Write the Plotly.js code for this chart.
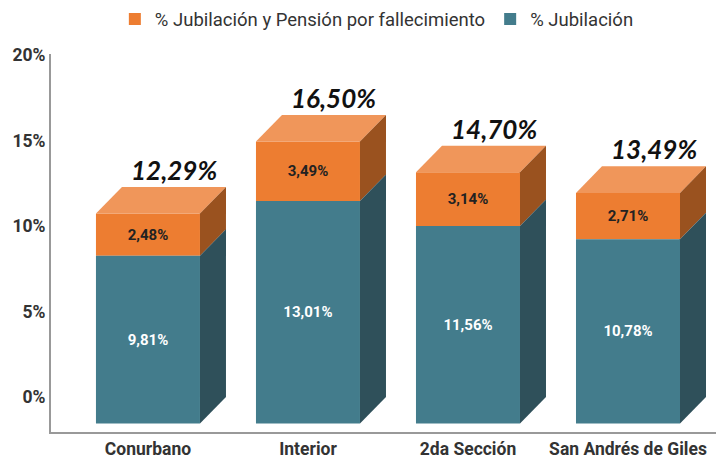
<!DOCTYPE html>
<html><head><meta charset="utf-8">
<script src="https://cdn.plot.ly/plotly-3.0.1.min.js"></script>
<style>html,body{margin:0;padding:0;background:#fff}#chart{width:716px;height:464px}</style>
</head><body><div id="chart"></div>
<script>
const categories = ['Conurbano', 'Interior', '2da Sección', 'San Andrés de Giles'];
const jubilacion = [9.81, 13.01, 11.56, 10.78];
const pension = [2.48, 3.49, 3.14, 2.71];
const seriesNames = ['% Jubilación y Pensión por fallecimiento', '% Jubilación'];
const yTickVals = [0, 5, 10, 15, 20];
const yTickText = ['0%', '5%', '10%', '15%', '20%'];

const BAR_W = 0.65, DX = 0.1625, DY = 1.55;
const C_OR = '#ED7D31', C_OR_TOP = '#F0965A', C_OR_SIDE = '#9A521F';
const C_TE = '#437C8C', C_TE_SIDE = '#2F505A';
const fmt = v => v.toFixed(2).replace('.', ',') + '%';
const xs = categories.map((_, i) => i);
const totals = jubilacion.map((v, i) => v + pension[i]);

const traces = [
  {
    type: 'bar', name: seriesNames[0], x: xs, y: pension,
    base: jubilacion.map(v => v - DY), width: BAR_W,
    marker: {color: C_OR, line: {width: 0}},
    text: pension.map(fmt), textposition: 'inside', insidetextanchor: 'middle',
    textfont: {family: 'Roboto', size: 15, color: '#222', weight: 'bold'},
    constraintext: 'none', hoverinfo: 'skip'
  },
  {
    type: 'bar', name: seriesNames[1], x: xs, y: jubilacion,
    base: jubilacion.map(() => -DY), width: BAR_W,
    marker: {color: C_TE, line: {width: 0}},
    text: jubilacion.map(fmt), textposition: 'inside', insidetextanchor: 'middle',
    textfont: {family: 'Roboto', size: 15, color: '#ffffff', weight: 'bold'},
    constraintext: 'none', hoverinfo: 'skip'
  }
];

const shapes = [];
xs.forEach((x, i) => {
  const x0 = x - BAR_W / 2, x1 = x + BAR_W / 2;
  const J = jubilacion[i], T = totals[i];
  shapes.push({type: 'path', xref: 'x', yref: 'y', line: {width: 0}, fillcolor: C_OR_TOP,
    path: `M${x0},${T - DY} L${x1},${T - DY} L${x1 + DX},${T} L${x0 + DX},${T} Z`});
  shapes.push({type: 'path', xref: 'x', yref: 'y', line: {width: 0}, fillcolor: C_OR_SIDE,
    path: `M${x1},${T - DY} L${x1 + DX},${T} L${x1 + DX},${J} L${x1},${J - DY} Z`});
  shapes.push({type: 'path', xref: 'x', yref: 'y', line: {width: 0}, fillcolor: C_TE_SIDE,
    path: `M${x1},${J - DY} L${x1 + DX},${J} L${x1 + DX},0 L${x1},${-DY} Z`});
});

const annotations = xs.map((x, i) => ({
  x: x + DX, y: totals[i], xref: 'x', yref: 'y', yanchor: 'bottom', xanchor: 'center',
  text: fmt(totals[i]), showarrow: false, yshift: -1,
  font: {family: 'Lato', size: 26, color: '#111', weight: 'bold', style: 'italic'}
}));

const layout = {
  width: 716, height: 464,
  margin: {l: 51, r: 0, t: 54, b: 31.5},
  paper_bgcolor: '#fff', plot_bgcolor: '#fff',
  barmode: 'overlay', showlegend: true,
  legend: {orientation: 'h', x: 0.49, xanchor: 'center', yref: 'container', y: 0.999, yanchor: 'top',
    traceorder: 'normal', font: {family: 'Roboto', size: 18.5, color: '#333'}},
  xaxis: {range: [-0.606, 3.55], tickvals: xs, ticktext: categories, showgrid: false, zeroline: false,
    showline: true, linecolor: '#999', linewidth: 2, ticks: '',
    tickfont: {family: 'Roboto', size: 17.5, color: '#333', weight: 'bold'}},
  yaxis: {range: [-2.04, 20.06], tickvals: yTickVals, ticktext: yTickText, showgrid: false, zeroline: false,
    showline: true, linecolor: '#999', linewidth: 2, ticks: '',
    tickfont: {family: 'Roboto', size: 17.5, color: '#333', weight: 'bold'}},
  shapes: shapes, annotations: annotations
};

Plotly.newPlot('chart', traces, layout, {staticPlot: true, displayModeBar: false});
</script>
</body></html>
